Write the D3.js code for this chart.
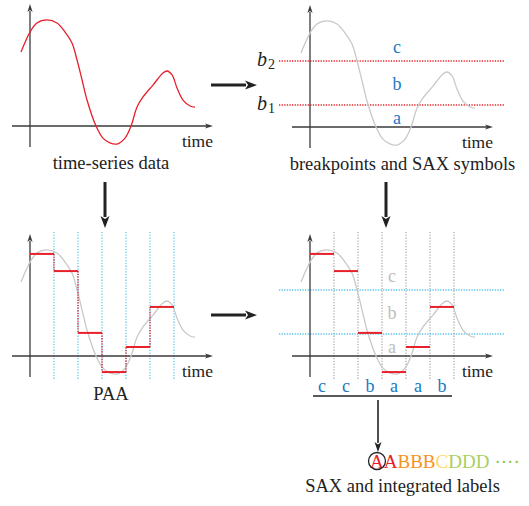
<!DOCTYPE html>
<html>
<head>
<meta charset="utf-8">
<script src="https://cdn.jsdelivr.net/npm/d3@7"></script>
<style>
  body { margin: 0; background: #fff; }
  svg { display: block; }
  text { font-family: "Liberation Serif", "Times New Roman", serif; }
</style>
</head>
<body>
<svg></svg>
<script>
// time series (t in segment units, v in value units)
let curveT = [-0.375, 0, 0.29, 0.71, 1.125, 1.46, 1.75, 1.96, 2.17, 2.375, 2.75, 3.04, 3.33, 3.625,
              3.96, 4.21, 4.46, 4.71, 5.125, 5.54, 5.71, 5.92, 6.125, 6.375, 6.67, 6.875];
let curveV = [3.36, 4.27, 4.68, 4.82, 4.68, 4.27, 3.77, 3.0, 2.09, 1.18, 0, -0.55, -0.77, -0.82,
              -0.55, 0, 0.86, 1.32, 1.86, 2.41, 2.5, 2.32, 1.73, 1.18, 0.91, 0.86];
let paaValues   = [4.64, 3.86, 1.05, -0.73, 0.41, 2.23];
let breakpoints = [1, 3];
let symbols     = ['a', 'b', 'c'];
let symbolLevel = [0.35, 1.9, 3.6];
let saxWord     = ['c', 'c', 'b', 'a', 'a', 'b'];
let labelSeq    = ['A', 'A', 'B', 'B', 'B', 'C', 'D', 'D', 'D'];
let captions    = ['time-series data', 'breakpoints and SAX symbols', 'PAA', 'SAX and integrated labels'];

let width  = 529,
    height = 506;

let labelColor = {A: '#ec1c24', B: '#f7931e', C: '#ffd966', D: '#a8cf5f'};
let blue = '#2179c3';

let svg = d3.select('svg')
    .attr('width', width)
    .attr('height', height);

let curve = curveT.map((t, i) => [t, curveV[i]]);

function arrow(x1, y1, x2, y2, w, headLen, headW, color) {
  let dx = x2 - x1, dy = y2 - y1;
  let len = Math.sqrt(dx * dx + dy * dy);
  let ux = dx / len, uy = dy / len;
  let bx = x2 - ux * headLen, by = y2 - uy * headLen;
  svg.append('line')
    .attr('x1', x1).attr('y1', y1)
    .attr('x2', bx + ux * 1).attr('y2', by + uy * 1)
    .attr('stroke', color).attr('stroke-width', w);
  svg.append('polygon')
    .attr('points', [[x2, y2], [bx - uy * headW, by + ux * headW], [bx + ux * headLen * 0.25, by + uy * headLen * 0.25], [bx + uy * headW, by - ux * headW]].map(p => p.join(',')).join(' '))
    .attr('fill', color);
}

let panels = [{ox: 0, oy: 0}, {ox: 280, oy: 1}, {ox: 0, oy: 230}, {ox: 280, oy: 230}];

panels.forEach((p, k) => {
  let x = d3.scaleLinear().domain([0, 6]).range([30 + p.ox, 174 + p.ox]);
  let y = d3.scaleLinear().domain([0, 1]).range([126 + p.oy, 104 + p.oy]);
  let g = svg.append('g');

  // grid / breakpoint lines below curve
  if (k === 1) {
    g.selectAll('.bp').data(breakpoints).enter().append('line')
      .attr('x1', p.ox - 1).attr('x2', p.ox + 225)
      .attr('y1', d => y(d)).attr('y2', d => y(d))
      .attr('stroke', '#e3262c').attr('stroke-width', 1.3).attr('stroke-dasharray', '1.3,1.3');
  }
  if (k === 2 || k === 3) {
    g.selectAll('.seg').data(d3.range(1, 7)).enter().append('line')
      .attr('x1', d => x(d)).attr('x2', d => x(d))
      .attr('y1', p.oy + 2).attr('y2', p.oy + 150)
      .attr('stroke', k === 2 ? '#5cc6ec' : '#a9a9a9')
      .attr('stroke-width', 1.2).attr('stroke-dasharray', '1.3,1.5');
  }
  if (k === 3) {
    g.selectAll('.bp').data(breakpoints).enter().append('line')
      .attr('x1', p.ox - 1).attr('x2', p.ox + 225)
      .attr('y1', d => y(d)).attr('y2', d => y(d))
      .attr('stroke', '#5cc6ec').attr('stroke-width', 1.3).attr('stroke-dasharray', '1.3,1.3');
  }

  // axes
  g.append('line').attr('x1', p.ox + 12).attr('x2', p.ox + 207)
    .attr('y1', y(0)).attr('y2', y(0)).attr('stroke', '#3a3a3a').attr('stroke-width', 1.3);
  g.append('polygon')
    .attr('points', `${p.ox + 213},${y(0)} ${p.ox + 205},${y(0) - 2.6} ${p.ox + 207},${y(0)} ${p.ox + 205},${y(0) + 2.6}`)
    .attr('fill', '#3a3a3a');
  g.append('line').attr('x1', x(0)).attr('x2', x(0))
    .attr('y1', p.oy + 147).attr('y2', p.oy + 11).attr('stroke', '#3a3a3a').attr('stroke-width', 1.3);
  g.append('polygon')
    .attr('points', `${x(0)},${p.oy + 4} ${x(0) - 2.6},${p.oy + 12} ${x(0)},${p.oy + 10} ${x(0) + 2.6},${p.oy + 12}`)
    .attr('fill', '#3a3a3a');
  g.append('text').attr('x', p.ox + 213).attr('y', p.oy + 147)
    .attr('text-anchor', 'end').attr('font-size', '17.5px').attr('fill', '#222').text('time');

  // curve
  g.append('path').datum(curve)
    .attr('fill', 'none')
    .attr('stroke', k === 0 ? '#e8202a' : '#c9c9c9')
    .attr('stroke-width', 1.3)
    .attr('d', d3.line().x(d => x(d[0])).y(d => y(d[1])).curve(d3.curveCatmullRom.alpha(0.5)));

  if (k === 1) {
    g.selectAll('.sym').data(symbols).enter().append('text')
      .attr('x', x(3.625)).attr('y', (d, i) => y(symbolLevel[i]) + 5)
      .attr('text-anchor', 'middle').attr('font-size', '18px').attr('fill', blue).text(d => d);
    let bl = g.selectAll('.bl').data(breakpoints).enter().append('text')
      .attr('x', p.ox - 23).attr('y', d => y(d) + 5)
      .attr('font-size', '20px').attr('fill', '#222');
    bl.append('tspan').attr('font-style', 'italic').text('b');
    bl.append('tspan').attr('font-size', '14px').attr('dx', 1).attr('dy', 3).text((d, i) => i + 1);
  }

  if (k === 3) {
    g.selectAll('.sym').data(symbols).enter().append('text')
      .attr('x', x(3.42)).attr('y', (d, i) => y(symbolLevel[i]) + 5)
      .attr('text-anchor', 'middle').attr('font-size', '18px').attr('fill', '#bdbdbd').text(d => d);
  }

  if (k === 2 || k === 3) {
    // PAA segments
    g.selectAll('.paa').data(paaValues).enter().append('line')
      .attr('x1', (d, i) => x(i)).attr('x2', (d, i) => x(i + 1))
      .attr('y1', d => y(d)).attr('y2', d => y(d))
      .attr('stroke', '#e8202a').attr('stroke-width', 2);
  }
  if (k === 2) {
    g.selectAll('.conn').data(paaValues.slice(1)).enter().append('line')
      .attr('x1', (d, i) => x(i + 1)).attr('x2', (d, i) => x(i + 1))
      .attr('y1', (d, i) => y(paaValues[i])).attr('y2', d => y(d))
      .attr('stroke', '#d42027').attr('stroke-width', 1.3).attr('stroke-dasharray', '1.3,1.3');
  }
  if (k === 3) {
    g.selectAll('.word').data(saxWord).enter().append('text')
      .attr('x', (d, i) => x(i + 0.5)).attr('y', p.oy + 162)
      .attr('text-anchor', 'middle').attr('font-size', '18px').attr('fill', blue).text(d => d);
    g.append('line').attr('x1', p.ox + 33).attr('x2', p.ox + 172)
      .attr('y1', p.oy + 166).attr('y2', p.oy + 166)
      .attr('stroke', '#222').attr('stroke-width', 1.5);
  }
});

// captions
let capPos = [[111, 169], [402.5, 170], [111, 400], [402.5, 492]];
svg.selectAll('.cap').data(captions).enter().append('text')
  .attr('x', (d, i) => capPos[i][0]).attr('y', (d, i) => capPos[i][1])
  .attr('text-anchor', 'middle').attr('font-size', '18.5px').attr('fill', '#222').text(d => d);

// flow arrows
arrow(211, 85, 257, 85, 3, 12, 4.5, '#222');
arrow(211, 315, 257, 315, 3, 12, 4.5, '#222');
arrow(105, 182, 105, 228, 3, 12, 4.5, '#222');
arrow(386, 182, 386, 228, 3, 12, 4.5, '#222');
arrow(378, 400, 378, 452, 1.6, 10, 3.5, '#222');

// integrated labels
let lab = svg.append('text').attr('x', 370).attr('y', 468).attr('font-size', '19px');
lab.selectAll('tspan').data(labelSeq).enter().append('tspan')
  .attr('fill', d => labelColor[d]).text(d => d);
lab.append('tspan').attr('fill', '#8dc63f').attr('dx', 5).text('····');
svg.append('circle').attr('cx', 377).attr('cy', 461).attr('r', 8.5)
  .attr('fill', 'none').attr('stroke', '#222').attr('stroke-width', 1.3);
</script>
</body>
</html>
